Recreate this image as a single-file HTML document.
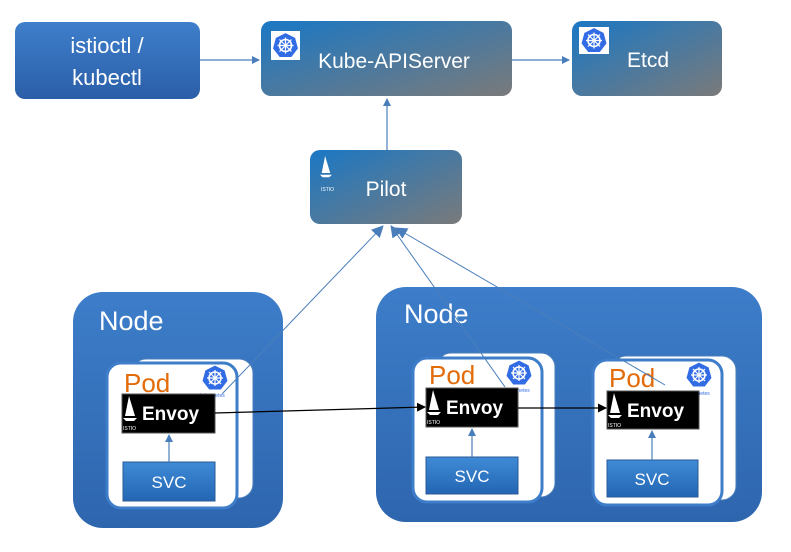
<!DOCTYPE html>
<html><head><meta charset="utf-8"><style>
body{margin:0;background:#fff;}
svg{display:block;font-family:"Liberation Sans",sans-serif;}
</style></head><body>
<svg width="791" height="552" viewBox="0 0 791 552" xmlns="http://www.w3.org/2000/svg">
<defs>
<linearGradient id="g1" x1="0" y1="0" x2="1" y2="1"><stop offset="0" stop-color="#1a78c5"/><stop offset="1" stop-color="#7a7a7a"/></linearGradient>
<linearGradient id="g2" x1="0" y1="0" x2="0" y2="1"><stop offset="0" stop-color="#3e7fcb"/><stop offset="1" stop-color="#2b5ea8"/></linearGradient>
<linearGradient id="gn" x1="0" y1="0" x2="0" y2="1"><stop offset="0" stop-color="#3d7dc9"/><stop offset="1" stop-color="#2e66ae"/></linearGradient>
<linearGradient id="gs" x1="0" y1="0" x2="0" y2="1"><stop offset="0" stop-color="#3f8ad6"/><stop offset="1" stop-color="#2366b3"/></linearGradient>
<marker id="a" markerWidth="8" markerHeight="8" refX="7" refY="4" orient="auto" markerUnits="userSpaceOnUse"><path d="M0,0 L8,4 L0,8 z" fill="#4a7ebb"/></marker>
<marker id="b" markerWidth="12" markerHeight="12" refX="11" refY="6" orient="auto" markerUnits="userSpaceOnUse"><path d="M0,0 L12,6 L0,12 z" fill="#4a7ebb"/></marker>
<marker id="k" markerWidth="9" markerHeight="9" refX="8" refY="4.5" orient="auto" markerUnits="userSpaceOnUse"><path d="M0,0 L9,4.5 L0,9 z" fill="#000"/></marker>
<g id="k8s"><path d="M0,-13 L10,-8 L13,3 L6,12 L-6,12 L-13,3 L-10,-8 z" fill="#326ce5" stroke="#fff" stroke-width="1"/><circle r="6" fill="none" stroke="#fff" stroke-width="1.6"/><path d="M0,-8 V8 M-8,0 H8 M-6,-6 L6,6 M6,-6 L-6,6" stroke="#fff" stroke-width="1.2"/></g>
<g id="sail"><path d="M6,0 L12,20 L2,20 z" fill="#fff"/><path d="M0,22 H14 L11,25 H3 z" fill="#fff"/></g>
</defs>

<!-- top boxes -->
<rect x="15" y="22" width="185" height="77" rx="10" fill="url(#g2)"/>
<text x="107" y="53" font-size="22" fill="#fff" text-anchor="middle">istioctl /</text>
<text x="107" y="85" font-size="22" fill="#fff" text-anchor="middle">kubectl</text>
<rect x="261" y="21" width="251" height="75" rx="10" fill="url(#g1)"/>
<rect x="271" y="31" width="29" height="29" fill="#fff"/><use href="#k8s" x="285.5" y="45.5" transform="translate(0,0)"/>
<text x="394" y="68" font-size="21" fill="#fff" text-anchor="middle">Kube-APIServer</text>
<rect x="572" y="21" width="150" height="75" rx="10" fill="url(#g1)"/>
<rect x="579" y="27" width="30" height="27" fill="#fff"/><use href="#k8s" x="594" y="40.5"/>
<text x="648" y="67" font-size="21" fill="#fff" text-anchor="middle">Etcd</text>
<rect x="310" y="150" width="152" height="74" rx="10" fill="url(#g1)"/>
<g transform="translate(320,156) scale(0.85)"><use href="#sail"/></g>
<text x="321" y="191" font-size="5" fill="#fff">ISTIO</text>
<text x="386" y="196" font-size="21" fill="#fff" text-anchor="middle">Pilot</text>

<line x1="200" y1="60" x2="259" y2="60" stroke="#4a7ebb" stroke-width="1.2" marker-end="url(#a)"/>
<line x1="512" y1="60" x2="569" y2="60" stroke="#4a7ebb" stroke-width="1.2" marker-end="url(#a)"/>
<line x1="387" y1="150" x2="387" y2="99" stroke="#4a7ebb" stroke-width="1.2" marker-end="url(#a)"/>

<!-- nodes -->
<rect x="73" y="292" width="210" height="236" rx="30" fill="url(#gn)"/>
<text x="99" y="330" font-size="27" fill="#fff">Node</text>
<rect x="376" y="287" width="386" height="235" rx="30" fill="url(#gn)"/>
<text x="404" y="323" font-size="27" fill="#fff">Node</text>

<!-- pods -->
<g id="pod1">
<rect x="132" y="359" width="121" height="139" rx="14" fill="#fff" stroke="#4a7ebb" stroke-width="1"/>
<rect x="107" y="363" width="130" height="145" rx="14" fill="#fff" stroke="#3d7dc9" stroke-width="3"/>
</g>
<rect x="437" y="353" width="118" height="144" rx="14" fill="#fff" stroke="#4a7ebb" stroke-width="1"/>
<rect x="413" y="358" width="129" height="144" rx="14" fill="#fff" stroke="#3d7dc9" stroke-width="3"/>
<rect x="612" y="356" width="124" height="144" rx="14" fill="#fff" stroke="#4a7ebb" stroke-width="1"/>
<rect x="593" y="360" width="129" height="145" rx="14" fill="#fff" stroke="#3d7dc9" stroke-width="3"/>

<text x="124" y="392" font-size="26" fill="#e36c0a">Pod</text>
<text x="429" y="384" font-size="26" fill="#e36c0a">Pod</text>
<text x="609" y="387" font-size="26" fill="#e36c0a">Pod</text>
<use href="#k8s" x="215" y="378"/><text x="200" y="397" font-size="5" fill="#326ce5">kubernetes</text>
<use href="#k8s" x="519" y="373"/><text x="505" y="392" font-size="5" fill="#326ce5">kubernetes</text>
<use href="#k8s" x="699" y="375"/><text x="685" y="395" font-size="5" fill="#326ce5">kubernetes</text>

<!-- envoys -->
<rect x="122" y="394" width="93" height="39" fill="#000" stroke="#555"/>
<g transform="translate(123,396)"><use href="#sail"/></g><text x="123" y="430" font-size="5" fill="#fff">ISTIO</text>
<text x="142" y="420" font-size="19" font-weight="bold" fill="#fff">Envoy</text>
<rect x="426" y="388" width="92" height="39" fill="#000" stroke="#555"/>
<g transform="translate(427,390)"><use href="#sail"/></g><text x="427" y="424" font-size="5" fill="#fff">ISTIO</text>
<text x="446" y="414" font-size="19" font-weight="bold" fill="#fff">Envoy</text>
<rect x="607" y="391" width="92" height="38" fill="#000" stroke="#555"/>
<g transform="translate(608,393)"><use href="#sail"/></g><text x="608" y="427" font-size="5" fill="#fff">ISTIO</text>
<text x="627" y="417" font-size="19" font-weight="bold" fill="#fff">Envoy</text>

<!-- svcs -->
<rect x="123" y="462" width="92" height="39" fill="url(#gs)" stroke="#2a5a9a"/>
<text x="169" y="488" font-size="17" fill="#fff" text-anchor="middle">SVC</text>
<rect x="426" y="457" width="92" height="37" fill="url(#gs)" stroke="#2a5a9a"/>
<text x="472" y="482" font-size="17" fill="#fff" text-anchor="middle">SVC</text>
<rect x="607" y="460" width="91" height="37" fill="url(#gs)" stroke="#2a5a9a"/>
<text x="652" y="485" font-size="17" fill="#fff" text-anchor="middle">SVC</text>

<line x1="169" y1="462" x2="169" y2="435" stroke="#4a7ebb" stroke-width="1.2" marker-end="url(#a)"/>
<line x1="472" y1="457" x2="472" y2="429" stroke="#4a7ebb" stroke-width="1.2" marker-end="url(#a)"/>
<line x1="652" y1="460" x2="652" y2="431" stroke="#4a7ebb" stroke-width="1.2" marker-end="url(#a)"/>

<line x1="215" y1="413" x2="425" y2="407" stroke="#000" stroke-width="1.2" marker-end="url(#k)"/>
<line x1="518" y1="408" x2="606" y2="408" stroke="#000" stroke-width="1.2" marker-end="url(#k)"/>

<!-- to pilot -->
<line x1="222" y1="394" x2="383" y2="226" stroke="#4a7ebb" stroke-width="1" marker-end="url(#b)"/>
<line x1="505" y1="387" x2="391" y2="226" stroke="#4a7ebb" stroke-width="1" marker-end="url(#b)"/>
<line x1="665" y1="385" x2="396" y2="228" stroke="#4a7ebb" stroke-width="1" marker-end="url(#b)"/>
</svg>
</body></html>
